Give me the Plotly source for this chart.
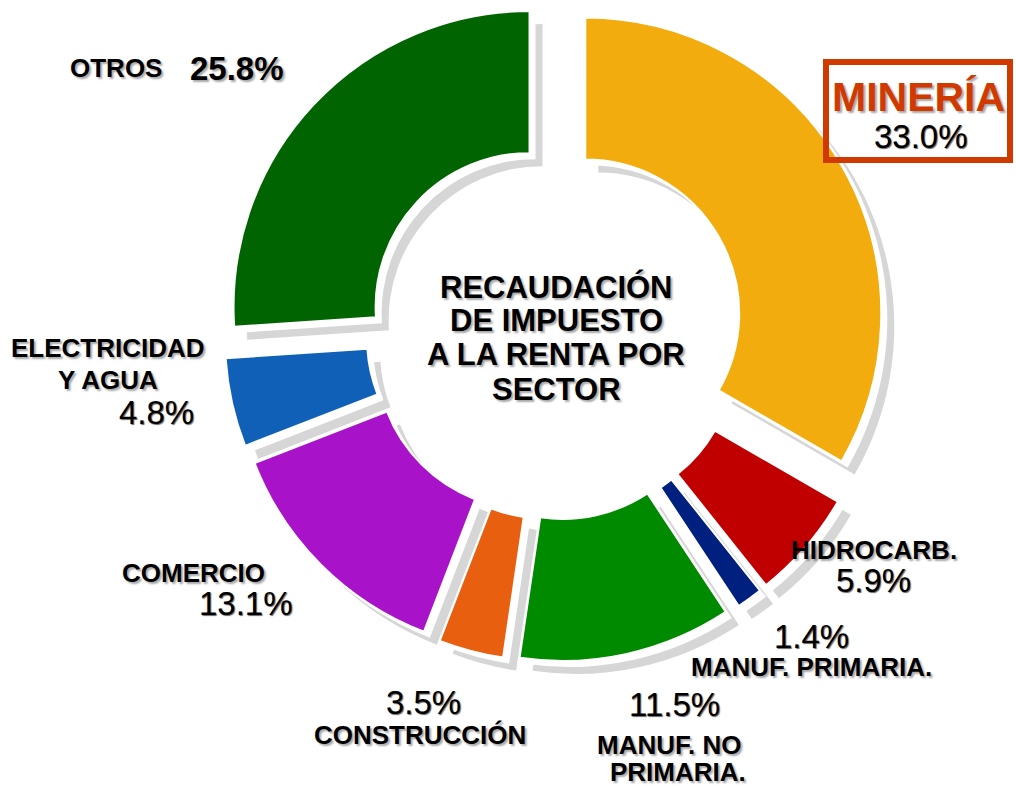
import plotly.graph_objects as go

W, H = 1016, 786

sectors = ["MINERÍA", "HIDROCARB.", "MANUF. PRIMARIA.", "MANUF. NO PRIMARIA.",
           "CONSTRUCCIÓN", "COMERCIO", "ELECTRICIDAD Y AGUA", "OTROS"]
shares = [33.0, 5.9, 1.4, 11.5, 3.5, 13.1, 4.8, 25.8]
colors = ["#F2AC0E", "#C00000", "#002080", "#008A00",
          "#E8600F", "#A812C8", "#1060B8", "#006400"]
center_title = ["RECAUDACIÓN", "DE IMPUESTO", "A LA RENTA POR", "SECTOR"]

PULL = 0.118
HOLE = 0.52
FONT = "Liberation Sans, Arial, sans-serif"
SHADOW = "2px 2px 2px rgba(0,0,0,0.35)"


def px(x, y):
    return x / W, 1 - y / H


def dom(dx=0, dy=0):
    x0, x1 = 0.2163, 0.8763
    y0, y1 = 0.158, 1.0
    return dict(x=[x0 + dx / W, x1 + dx / W], y=[y0 - dy / H, y1 - dy / H])


def pie(cols, d, line_w=0):
    return go.Pie(
        values=shares, labels=sectors, sort=False, direction="clockwise",
        rotation=0, hole=HOLE, pull=[PULL] * len(shares),
        marker=dict(colors=cols, line=dict(color="white", width=line_w)),
        textinfo="none", hoverinfo="label+percent", domain=d,
        showlegend=False,
    )


fig = go.Figure()
fig.add_trace(pie(["#D6D6D6"] * len(shares), dom(13, 13)))
fig.add_trace(pie(["#FFFFFF"] * len(shares), dom(6, 6)))
fig.add_trace(pie(colors, dom(), 2))

anns = []


def txt(t, x, y, size, bold=True, color="black"):
    ax, ay = px(x, y)
    anns.append(dict(
        text=f"<b>{t}</b>" if bold else t, x=ax, y=ay, xref="paper", yref="paper",
        xanchor="center", yanchor="middle", showarrow=False,
        font=dict(family=FONT, size=size, color=color,
                  shadow=SHADOW if bold else "1px 1px 1px rgba(0,0,0,0.6)"),
    ))


LBL = 26
PCT = 33
pct = [f"{v:.1f}%" for v in shares]

txt("OTROS", 116, 68, LBL)
txt(pct[7], 237, 68, PCT, bold=True)
txt("MINERÍA", 918, 97, 41, color="#D03A00")
txt(pct[0], 921, 137, PCT, bold=False)
txt("ELECTRICIDAD", 108, 348, LBL)
txt("Y AGUA", 108, 380, LBL)
txt(pct[6], 156, 412, PCT, bold=False)
txt("COMERCIO", 193, 573, LBL)
txt(pct[5], 246, 603, PCT, bold=False)
txt(pct[4], 423, 702, PCT, bold=False)
txt("CONSTRUCCIÓN", 420, 735, LBL)
txt(pct[3], 674, 704, PCT, bold=False)
txt("MANUF. NO", 669, 745, LBL)
txt("PRIMARIA.", 678, 772, LBL)
txt("HIDROCARB.", 874, 550, LBL)
txt(pct[1], 873, 580, PCT, bold=False)
txt(pct[2], 811, 636, PCT, bold=False)
txt("MANUF. PRIMARIA.", 811, 667, LBL)

for i, line in enumerate(center_title):
    txt(line, 556, [287, 320, 355, 389][i], 31)

bx0, by0 = px(826, 62)
bx1, by1 = px(1010, 160)

fig.update_layout(
    width=W, height=H, margin=dict(l=0, r=0, t=0, b=0),
    paper_bgcolor="white", plot_bgcolor="white",
    annotations=anns,
    shapes=[dict(type="rect", xref="paper", yref="paper",
                 x0=bx0, y0=by0, x1=bx1, y1=by1,
                 line=dict(color="#D03A00", width=6))],
)

fig.write_html("out.html", config={"displayModeBar": False},
               post_script="document.body.style.margin='0';")
